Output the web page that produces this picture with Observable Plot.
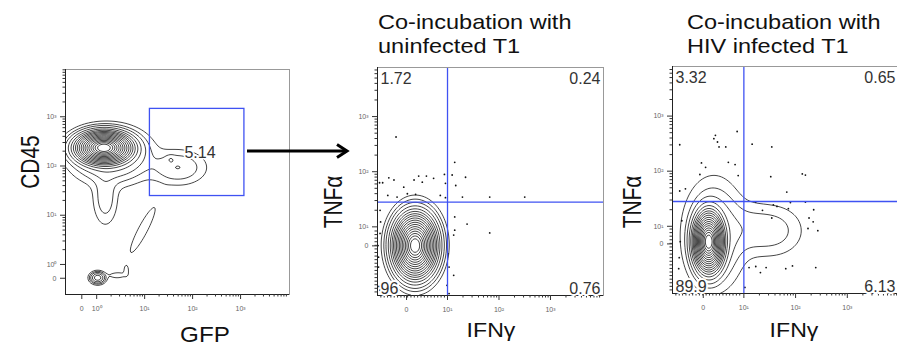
<!DOCTYPE html>
<html><head><meta charset="utf-8">
<script src="https://cdn.jsdelivr.net/npm/d3@7"></script>
<script src="https://cdn.jsdelivr.net/npm/@observablehq/plot@0.6"></script>
<style>
body{margin:0;background:#fff;overflow:hidden;font-family:"Liberation Sans",Arial,sans-serif;}
#root{position:relative;width:897px;height:347px;overflow:hidden;background:#fff;}
.lab{position:absolute;color:#111;white-space:nowrap;line-height:1;}
.plot{position:absolute;}
</style></head><body><div id="root"></div>
<script>
// ---------- DATA (values in log-decade display units: 10^k sits at k, "0" sits below the first decade) ----------
// Panel 1: GFP vs CD45
const gfpTicks = [-0.31, 0, 1, 2, 3];
const gfpTickLabels = ["0", "10⁰", "10¹", "10²", "10³"];
const cd45Ticks = [-0.28, 0, 1, 2, 3];
const cd45TickLabels = ["0", "10⁰", "10¹", "10²", "10³"];
const gfpPopulations = [
  {x: 0.15, y: 2.37, sx: 0.26, sy: 0.145, w: 1},
  {x: 0.30, y: 2.20, sx: 0.42, sy: 0.28, w: 0.03},
  {x: 0.18, y: 1.35, sx: 0.15, sy: 0.32, w: 0.008},
  {x: 1.70, y: 1.97, sx: 0.33, sy: 0.20, w: 0.010},
  {x: 1.54, y: 2.14, sx: 0.06, sy: 0.05, w: 0.004},
  {x: 0.96, y: 0.70, sx: 0.44, sy: 0.08, w: 0.004, a: 1.077},
  {x: 0.02, y: -0.27, sx: 0.08, sy: 0.06, w: 0.05},
  {x: 0.42, y: -0.22, sx: 0.15, sy: 0.05, w: 0.003},
  {x: 0.62, y: -0.12, sx: 0.04, sy: 0.08, w: 0.003}
];
const gfpGate = [{x1: 1.11, x2: 3.08, y1: 1.39, y2: 3.16, label: "5.14"}];

// Panels 2 and 3: IFNγ vs TNFα
const ifnTicks = [0.204, 1, 2, 3];
const ifnTickLabels = ["0", "10¹", "10²", "10³"];
const tnfTicks = [0.655, 1, 2, 3];
const tnfTickLabels = ["0", "10¹", "10²", "10³"];
const quadrantX = 1.0;   // IFNγ gate
const quadrantY = 1.45;  // TNFα gate

const uninfectedPopulations = [
  {x: 0.37, y: 0.66, sx: 0.185, sy: 0.255, w: 1},
  {x: 0.40, y: 0.75, sx: 0.25, sy: 0.33, w: 0.01}
];
const uninfectedQuadrants = ["1.72", "0.24", "96", "0.76"]; // TL, TR, BL, BR
const uninfectedDots = [
  [0.00, 2.63], [1.14, 2.17], [-0.14, 1.89], [-0.32, 1.80], [-0.26, 1.80], [-0.04, 1.85],
  [0.15, 1.72], [0.35, 1.85], [0.44, 1.92], [0.51, 1.81], [0.59, 1.92], [0.73, 1.88],
  [0.94, 1.95], [0.96, 1.79], [1.09, 1.94], [1.35, 1.90], [1.16, 1.75], [-0.16, 1.57],
  [0.02, 1.54], [0.22, 1.60], [0.38, 1.59], [0.86, 1.57], [0.96, 1.53], [1.29, 1.54],
  [1.82, 1.54], [2.50, 1.54], [1.38, 1.05], [1.82, 0.89], [1.14, 1.18], [1.14, 0.94],
  [1.12, 0.85], [1.01, 0.51], [1.03, 0.27], [1.12, 0.12], [0.99, -0.06], [1.03, -0.21],
  [-0.31, 1.30], [-0.30, 1.09], [-0.31, 0.88], [-0.35, 0.66], [-0.34, 0.45], [-0.34, 0.27],
  [-0.33, -0.08], [-0.31, -0.15]
];

const infectedPopulations = [
  {x: 0.32, y: 0.72, sx: 0.13, sy: 0.24, w: 1},
  {x: 0.42, y: 0.85, sx: 0.30, sy: 0.50, w: 0.02},
  {x: 1.05, y: 0.95, sx: 0.30, sy: 0.28, w: 0.005},
  {x: 1.57, y: 0.92, sx: 0.34, sy: 0.27, w: 0.007}
];
const infectedQuadrants = ["3.32", "0.65", "89.9", "6.13"];
const infectedDots = [
  [-0.24, 2.48], [0.45, 2.65], [0.42, 2.59], [0.49, 2.53], [0.52, 2.44], [0.65, 2.44],
  [0.87, 2.72], [1.16, 2.49], [1.54, 2.44], [0.18, 2.15], [0.26, 2.07], [0.70, 2.16],
  [0.83, 2.12], [0.89, 1.92], [0.15, 1.94], [1.52, 1.90], [2.13, 1.95], [2.19, 1.93],
  [-0.24, 1.64], [-0.13, 1.68], [1.23, 1.44], [1.57, 1.39], [1.64, 1.36], [1.83, 1.62],
  [1.86, 1.32], [1.90, 1.43], [2.19, 1.44], [2.35, 1.30], [2.26, 1.15], [2.34, 1.08],
  [2.43, 0.92], [2.24, 0.96], [1.54, 1.15], [1.36, 1.29], [2.39, 0.25], [1.10, 0.25],
  [1.23, 0.27], [1.32, 0.16], [1.43, 0.25], [1.81, 0.23], [1.94, 0.28], [1.02, -0.11],
  [-0.26, 0.23], [-0.25, 0.43], [-0.23, 0.72], [-0.20, 1.10]
];

// ---------- STYLE ----------
const FONT = "'Liberation Sans', Arial, Helvetica, sans-serif";
const BLUE = "#3f52f2";
const thresholds = [0.002, 0.005, 0.01, 0.02, 0.035, 0.055, 0.08, 0.11, 0.15, 0.2, 0.26, 0.33, 0.41, 0.5, 0.6, 0.7, 0.8, 0.9];

function mixture(pops) {
  return (x, y) => {
    let s = 0;
    for (const p of pops) {
      const a = p.a || 0, c = Math.cos(a), sn = Math.sin(a);
      const dx = x - p.x, dy = y - p.y;
      const u = (dx * c + dy * sn) / p.sx, v = (-dx * sn + dy * c) / p.sy;
      s += p.w * Math.exp(-0.5 * (u * u + v * v));
    }
    return s;
  };
}

function minorTicks(domain, firstDecade, linearStep) {
  const t = [];
  for (let k = firstDecade; k < 5; k++)
    for (let m = 2; m <= 9; m++) {
      const v = k + Math.log10(m);
      if (v > domain[0] && v < domain[1]) t.push(v);
    }
  if (linearStep) for (let v = domain[0] + linearStep; v < firstDecade - 0.02; v += linearStep) t.push(v);
  return t;
}

function panel(o) {
  const xMap = new Map(o.xTicks.map((t, i) => [t, o.xLabels[i]]));
  const yMap = new Map(o.yTicks.map((t, i) => [t, o.yLabels[i]]));
  const [x0, x1] = o.xDomain, [y0, y1] = o.yDomain;
  const mL = 40, mR = 6, mT = 6, mB = 32;
  const svg = Plot.plot({
    width: o.fw + mL + mR, height: o.fh + mT + mB,
    marginLeft: mL, marginRight: mR, marginTop: mT, marginBottom: mB,
    x: {domain: o.xDomain}, y: {domain: o.yDomain},
    style: {fontFamily: FONT, background: "none", overflow: "visible"},
    marks: [
      Plot.contour({value: mixture(o.pops), x1: x0, x2: x1, y1: y0, y2: y1, thresholds, pixelSize: 1,
        stroke: "#161616", strokeWidth: 0.8, fill: "none"}),
      Plot.dot(o.dots || [], {x: d => d[0], y: d => d[1], r: 0.9, fill: "#111", stroke: null}),
      ...(o.extra || []),
      Plot.frame({stroke: "#999", strokeWidth: 1}),
      Plot.ruleY([y0], {stroke: "#222", strokeWidth: 1}),
      Plot.ruleX([x0], {stroke: "#222", strokeWidth: 1}),
      Plot.axisX({ticks: o.xMinor, tickSize: 2.5, text: null, stroke: "#333", label: null}),
      Plot.axisX({ticks: o.xTicks, tickSize: 5, tickPadding: 7, tickFormat: d => xMap.get(d), fontSize: 7, fill: "#666", stroke: "#333", label: null}),
      Plot.axisY({ticks: o.yMinor, tickSize: 2.5, text: null, stroke: "#333", label: null}),
      Plot.axisY({ticks: o.yTicks, tickSize: 5, tickPadding: 4, tickFormat: d => yMap.get(d), fontSize: 7, fill: "#666", stroke: "#333", label: null}),
      ...(o.labels || [])
    ]
  });
  svg.classList.add("plot");
  svg.style.left = (o.left - mL) + "px";
  svg.style.top = (o.top - mT) + "px";
  return svg;
}

function quadrantText(q) {
  const st = {fontSize: 16, fill: "#333", stroke: "white", strokeWidth: 4, paintOrder: "stroke", fontFamily: FONT};
  return [
    Plot.text([q[0]], {frameAnchor: "top-left", dx: 3, dy: 5, ...st}),
    Plot.text([q[1]], {frameAnchor: "top-right", dx: -3, dy: 5, ...st}),
    Plot.text([q[2]], {frameAnchor: "bottom-left", dx: 3, dy: -2, ...st}),
    Plot.text([q[3]], {frameAnchor: "bottom-right", dx: -3, dy: -2, ...st})
  ];
}

const quadrantRules = () => [
  Plot.ruleX([quadrantX], {stroke: BLUE, strokeWidth: 1.3}),
  Plot.ruleY([quadrantY], {stroke: BLUE, strokeWidth: 1.3})
];

const root = document.getElementById("root");

// Panel 1
const p1x = [-0.65, 4.02], p1y = [-0.61, 3.96];
root.appendChild(panel({
  left: 65, top: 69, fw: 224, fh: 225,
  xDomain: p1x, yDomain: p1y,
  xTicks: gfpTicks, xLabels: gfpTickLabels, yTicks: cd45Ticks, yLabels: cd45TickLabels,
  xMinor: minorTicks(p1x, 0), yMinor: minorTicks(p1y, 0),
  pops: gfpPopulations,
  extra: [
    Plot.rect(gfpGate, {x1: "x1", x2: "x2", y1: "y1", y2: "y2", stroke: BLUE, strokeWidth: 1.3, fill: "none"}),
    Plot.text(gfpGate, {x: d => d.x1 + 0.72, y: d => (d.y1 + d.y2) / 2, text: "label", textAnchor: "start", fontSize: 16,
      fill: "#333", stroke: "white", strokeWidth: 3, paintOrder: "stroke", fontFamily: FONT})
  ]
}));

// Panel 2
const p2x = [-0.36, 4.03], p2y = [-0.245, 3.89];
root.appendChild(panel({
  left: 377, top: 67, fw: 226, fh: 228,
  xDomain: p2x, yDomain: p2y,
  xTicks: ifnTicks, xLabels: ifnTickLabels, yTicks: tnfTicks, yLabels: tnfTickLabels,
  xMinor: minorTicks(p2x, 1, 0.065), yMinor: minorTicks(p2y, 1, 0.065),
  pops: uninfectedPopulations, dots: uninfectedDots,
  extra: quadrantRules(),
  labels: quadrantText(uninfectedQuadrants)
}));

// Panel 3
const p3x = [-0.38, 3.99], p3y = [-0.22, 3.90];
root.appendChild(panel({
  left: 672, top: 66, fw: 226, fh: 227,
  xDomain: p3x, yDomain: p3y,
  xTicks: ifnTicks.map((t, i) => i === 0 ? 0.215 : t), xLabels: ifnTickLabels,
  yTicks: tnfTicks.map((t, i) => i === 0 ? 0.68 : t), yLabels: tnfTickLabels,
  xMinor: minorTicks(p3x, 1, 0.065), yMinor: minorTicks(p3y, 1, 0.065),
  pops: infectedPopulations, dots: infectedDots,
  extra: quadrantRules(),
  labels: quadrantText(infectedQuadrants)
}));

// Arrow between panels (annotation)
const ns = "http://www.w3.org/2000/svg";
const arrow = document.createElementNS(ns, "svg");
arrow.setAttribute("width", 897); arrow.setAttribute("height", 347);
arrow.style.position = "absolute"; arrow.style.left = "0px"; arrow.style.top = "0px";
arrow.innerHTML = '<line x1="247" y1="151" x2="345" y2="151" stroke="#000" stroke-width="3"/>' +
  '<path d="M337,144.5 L347,151 L337,157.5" fill="none" stroke="#000" stroke-width="3" stroke-linejoin="miter"/>';
root.appendChild(arrow);

// Text labels
function label(text, cx, cy, size, rotate, anchor) {
  const d = document.createElement("div");
  d.className = "lab";
  d.textContent = text;
  d.style.fontSize = size + "px";
  d.style.fontFamily = FONT;
  d.style.left = cx + "px"; d.style.top = cy + "px";
  if (anchor === "left") {
    d.style.transformOrigin = "0 50%";
    d.style.transform = "translate(0,-50%) scale(1.12,1)";
  } else if (rotate) {
    d.style.transform = "translate(-50%,-50%) rotate(-90deg) scale(0.95,1.15)";
  } else {
    d.style.transform = "translate(-50%,-50%) scale(1.1,1)";
  }
  root.appendChild(d);
}
label("CD45", 31, 162, 22, true);
label("GFP", 205, 335, 22, false);
label("TNFα", 334, 202, 22, true);
label("IFNγ", 491, 329, 21, false);
label("TNFα", 633, 202, 22, true);
label("IFNγ", 794, 329, 21, false);
label("Co-incubation with", 378, 21, 21, false, "left");
label("uninfected T1", 378, 45, 21, false, "left");
label("Co-incubation with", 687, 21, 21, false, "left");
label("HIV infected T1", 687, 45, 21, false, "left");
</script>
</body></html>
